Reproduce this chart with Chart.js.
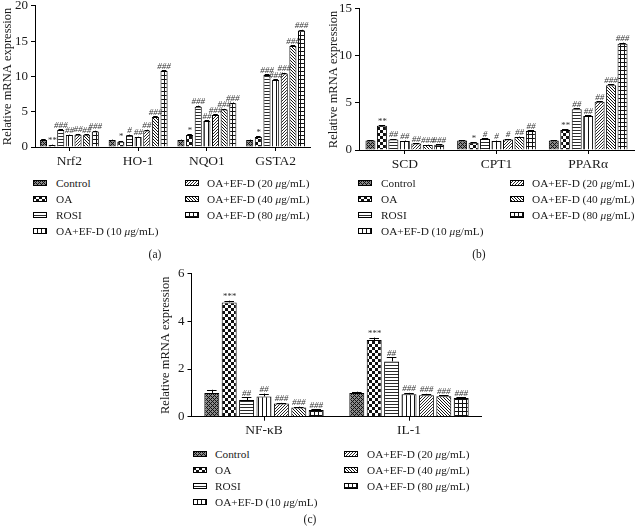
<!DOCTYPE html>
<html><head><meta charset="utf-8">
<script src="https://cdn.jsdelivr.net/npm/chart.js@4.4.1/dist/chart.umd.min.js"></script>
<style>
html,body{margin:0;padding:0;background:#fff;}
body{width:636px;height:529px;position:relative;overflow:hidden;font-family:"Liberation Serif","Times New Roman",serif;color:#1a1a1a;}
canvas.chart{position:absolute;}
.row{position:absolute;height:16px;display:flex;align-items:center;font-size:11.3px;white-space:nowrap;}
.row canvas{display:block;margin-right:9px;}
.lab{position:absolute;font-size:11.5px;transform:translate(-50%,-50%);}
</style>
</head><body>
<canvas id="cA" class="chart"></canvas>
<canvas id="cB" class="chart"></canvas>
<canvas id="cC" class="chart"></canvas>
<script>
// ---------- data ----------
const seriesNames = ['Control','OA','ROSI','OA+EF-D (10 μg/mL)','OA+EF-D (20 μg/mL)','OA+EF-D (40 μg/mL)','OA+EF-D (80 μg/mL)'];

// panel (a)
const categoriesA = ['Nrf2','HO-1','NQO1','GSTA2'];
const controlA = [1.0, 1.0, 1.0, 1.0];
const oaA      = [0.3, 0.75, 1.7, 1.4];
const rosiA    = [2.4, 1.65, 5.7, 10.2];
const d10A     = [1.7, 1.4, 3.7, 9.5];
const d20A     = [1.75, 2.35, 4.55, 10.4];
const d40A     = [1.75, 4.25, 5.3, 14.3];
const d80A     = [2.2, 10.75, 6.2, 16.5];
const errControlA = [0.1, 0.05, 0.05, 0.05];
const errOaA      = [0.05, 0.1, 0.1, 0.1];
const errRosiA    = [0.1, 0.1, 0.15, 0.1];
const errD10A     = [0.05, 0.05, 0.1, 0.1];
const errD20A     = [0.1, 0.1, 0.1, 0.1];
const errD40A     = [0.05, 0.1, 0.1, 0.1];
const errD80A     = [0.1, 0.1, 0.1, 0.1];
const sigControlA = ['', '', '', ''];
const sigOaA      = ['**', '*', '*', '*'];
const sigRosiA    = ['###', '#', '###', '###'];
const sigD10A     = ['##', '##', '##', '###'];
const sigD20A     = ['##', '##', '###', '###'];
const sigD40A     = ['##', '###', '###', '###'];
const sigD80A     = ['###', '###', '###', '###'];
const ticksA = [0, 5, 10, 15, 20];

// panel (b)
const categoriesB = ['SCD','CPT1','PPARα'];
const controlB = [1.0, 1.0, 1.0];
const oaB      = [2.57, 0.78, 2.12];
const rosiB    = [1.12, 1.18, 4.34];
const d10B     = [0.95, 0.95, 3.6];
const d20B     = [0.7, 1.12, 5.12];
const d40B     = [0.53, 1.37, 6.88];
const d80B     = [0.56, 2.02, 11.3];
const errControlB = [0.05, 0.05, 0.05];
const errOaB      = [0.08, 0.05, 0.08];
const errRosiB    = [0.05, 0.05, 0.1];
const errD10B     = [0.05, 0.05, 0.08];
const errD20B     = [0.04, 0.05, 0.08];
const errD40B     = [0.03, 0.05, 0.08];
const errD80B     = [0.03, 0.06, 0.1];
const sigControlB = ['', '', ''];
const sigOaB      = ['**', '*', '**'];
const sigRosiB    = ['##', '#', '##'];
const sigD10B     = ['##', '#', '##'];
const sigD20B     = ['##', '#', '##'];
const sigD40B     = ['###', '##', '###'];
const sigD80B     = ['###', '##', '###'];
const ticksB = [0, 5, 10, 15];

// panel (c)
const categoriesC = ['NF-κB','IL-1'];
const controlC = [1.0, 1.0];
const oaC      = [4.8, 3.22];
const rosiC    = [0.7, 2.32];
const d10C     = [0.85, 0.94];
const d20C     = [0.55, 0.9];
const d40C     = [0.39, 0.86];
const d80C     = [0.28, 0.78];
const errControlC = [0.13, 0.05];
const errOaC      = [0.07, 0.1];
const errRosiC    = [0.12, 0.17];
const errD10C     = [0.12, 0.06];
const errD20C     = [0.03, 0.06];
const errD40C     = [0.03, 0.04];
const errD80C     = [0.03, 0.03];
const sigControlC = ['', ''];
const sigOaC      = ['***', '***'];
const sigRosiC    = ['##', '##'];
const sigD10C     = ['##', '###'];
const sigD20C     = ['###', '###'];
const sigD40C     = ['###', '###'];
const sigD80C     = ['###', '###'];
const ticksC = [0, 2, 4, 6];

// ---------- patterns ----------
function makeTile(k){
  const T=[4,6,3,4,3,3,4][k];
  const c=document.createElement('canvas'); c.width=T; c.height=T;
  const g=c.getContext('2d');
  g.fillStyle = k===0 ? '#8a8a8a' : '#fff';
  g.fillRect(0,0,T,T);
  for(let x=0;x<T;x++)for(let y=0;y<T;y++){
    let on=false;
    switch(k){
      case 0: on=((x+y)%4===0)||((((x-y)%4)+4)%4===0); break;
      case 1: on=(Math.floor(x/3)+Math.floor(y/3))%2===0; break;
      case 2: on=(y===0); break;
      case 3: on=(x===0); break;
      case 4: on=((x+y)%3===0); break;
      case 5: on=((((x-y)%3)+3)%3===0); break;
      case 6: on=(x===0||y===0); break;
    }
    if(on){ g.fillStyle = (k===2||k===4)?'#2a2a2a':'#111'; g.fillRect(x,y,1,1); }
  }
  return c;
}
function makePattern(ctx,k){ return ctx.createPattern(makeTile(k),'repeat'); }

// ---------- annotation plugin (error bars + significance) ----------
const annot = {
  id:'annot',
  afterDatasetsDraw(chart){
    const ctx=chart.ctx, ys=chart.scales.y;
    chart.data.datasets.forEach((ds,i)=>{
      const meta=chart.getDatasetMeta(i);
      meta.data.forEach((bar,j)=>{
        const v=ds.data[j], e=(ds.err&&ds.err[j])||0;
        const top=ys.getPixelForValue(v+e);
        ctx.save();
        if(e>0){
          ctx.strokeStyle='#000'; ctx.lineWidth=1;
          const hw=Math.max(2,bar.width*0.32);
          ctx.beginPath();
          ctx.moveTo(Math.round(bar.x)+0.5,bar.y); ctx.lineTo(Math.round(bar.x)+0.5,top);
          ctx.moveTo(bar.x-hw,Math.round(top)+0.5); ctx.lineTo(bar.x+hw,Math.round(top)+0.5);
          ctx.stroke();
        }
        const s=ds.sig&&ds.sig[j];
        if(s){
          ctx.font='italic 9px "Liberation Serif", serif';
          ctx.fillStyle='#333'; ctx.textAlign='center'; ctx.textBaseline='alphabetic';
          ctx.fillText(s,bar.x,top-1.5);
        }
        ctx.restore();
      });
    });
  }
};

const FONT='"Liberation Serif", "Times New Roman", serif';

function build(p){
  const cv=document.getElementById(p.id);
  cv.width=p.w; cv.height=p.h;
  cv.style.left=p.left+'px'; cv.style.top=p.top+'px';
  cv.style.width=p.w+'px'; cv.style.height=p.h+'px';
  const ctx=cv.getContext('2d');
  const datasets=p.values.map((vals,i)=>({
    label:seriesNames[i], data:vals, err:p.errs[i], sig:p.sigs[i],
    backgroundColor:makePattern(ctx,i), borderColor:'#000', borderWidth:1,
    categoryPercentage:p.catPct, barPercentage:p.barPct
  }));
  new Chart(cv,{
    type:'bar',
    data:{labels:p.cats,datasets},
    options:{
      responsive:false, animation:false, devicePixelRatio:1,
      layout:{padding:{top:10,left:p.padL,right:p.padR,bottom:0}},
      plugins:{legend:{display:false},tooltip:{enabled:false}},
      scales:{
        x:{
          offset:true,
          grid:{display:true,drawOnChartArea:false,drawTicks:true,tickLength:4,offset:false,color:'#000'},
          border:{display:true,color:'#000',width:1},
          ticks:{font:{family:FONT,size:13.5},color:'#1a1a1a',padding:2,maxRotation:0,autoSkip:false},
          afterFit(s){ s.height=p.xH; }
        },
        y:{
          min:p.ticks[0], max:p.ticks[p.ticks.length-1],
          afterBuildTicks(s){ s.ticks=p.ticks.map(v=>({value:v})); },
          grid:{display:true,drawOnChartArea:false,drawTicks:true,tickLength:4,color:'#000'},
          border:{display:true,color:'#000',width:1},
          ticks:{font:{family:FONT,size:13},color:'#1a1a1a',padding:3},
          title:{display:true,text:'Relative mRNA expression',font:{family:FONT,size:12.5},color:'#1a1a1a',padding:{top:0,bottom:0}},
          afterFit(s){ s.width=p.yW; }
        }
      }
    },
    plugins:[annot]
  });
}

build({id:'cA',left:0,top:-5,w:314,h:176,padL:0,padR:4,yW:35,xH:24,catPct:0.88,barPct:0.82,
  cats:categoriesA,ticks:ticksA,
  values:[controlA,oaA,rosiA,d10A,d20A,d40A,d80A],
  errs:[errControlA,errOaA,errRosiA,errD10A,errD20A,errD40A,errD80A],
  sigs:[sigControlA,sigOaA,sigRosiA,sigD10A,sigD20A,sigD40A,sigD80A]});
build({id:'cB',left:320,top:-2,w:316,h:176,padL:6,padR:2,yW:33,xH:24,catPct:0.875,barPct:0.87,
  cats:categoriesB,ticks:ticksB,
  values:[controlB,oaB,rosiB,d10B,d20B,d40B,d80B],
  errs:[errControlB,errOaB,errRosiB,errD10B,errD20B,errD40B,errD80B],
  sigs:[sigControlB,sigOaB,sigRosiB,sigD10B,sigD20B,sigD40B,sigD80B]});
build({id:'cC',left:150,top:263,w:340,h:178,padL:8,padR:8.5,yW:33.5,xH:24.3,catPct:0.84,barPct:0.86,
  cats:categoriesC,ticks:ticksC,
  values:[controlC,oaC,rosiC,d10C,d20C,d40C,d80C],
  errs:[errControlC,errOaC,errRosiC,errD10C,errD20C,errD40C,errD80C],
  sigs:[sigControlC,sigOaC,sigRosiC,sigD10C,sigD20C,sigD40C,sigD80C]});

// ---------- legends ----------
function legend(lx,ltx,rx,rtx,rows){
  seriesNames.forEach((name,i)=>{
    const col=i<4?0:1, r=i<4?i:i-4;
    const div=document.createElement('div'); div.className='row';
    div.style.left=(col?rx:lx)+'px'; div.style.top=(rows[r]-8)+'px';
    const sw=document.createElement('canvas'); sw.width=14; sw.height=6;
    sw.style.marginRight=((col?rtx-rx:ltx-lx)-14)+'px';
    const g=sw.getContext('2d');
    g.fillStyle=makePattern(g,i); g.fillRect(0,0,14,6);
    g.strokeStyle='#000'; g.lineWidth=1; g.strokeRect(0.5,0.5,13,5);
    const t=document.createElement('span');
    t.innerHTML=name.replace('μ','<i>μ</i>');
    div.appendChild(sw); div.appendChild(t);
    document.body.appendChild(div);
  });
}
legend(33,56,185,207,[183,199,215,231]);
legend(358,381,510,532,[183,199,215,231]);
legend(193,215,344,367,[454,470,486,502]);
function lab(txt,x,y){const d=document.createElement('div');d.className='lab';d.textContent=txt;d.style.left=x+'px';d.style.top=y+'px';document.body.appendChild(d);}
lab('(a)',155,254); lab('(b)',479,254); lab('(c)',310,519);
</script>
</body></html>
